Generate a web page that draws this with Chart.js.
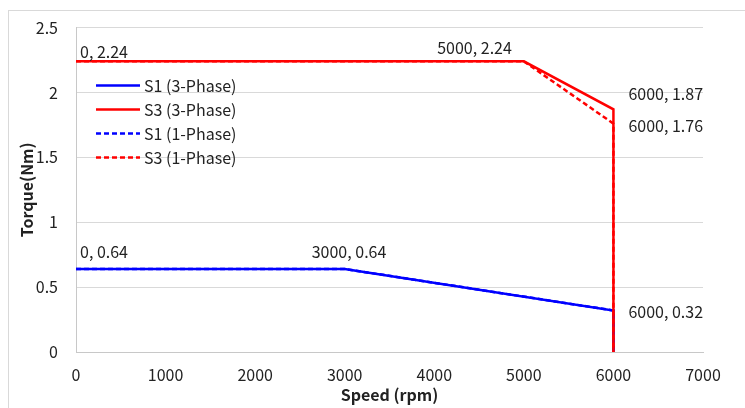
<!DOCTYPE html>
<html>
<head>
<meta charset="utf-8">
<script src="https://cdn.jsdelivr.net/npm/chart.js@4/dist/chart.umd.min.js"></script>
<style>
html,body{margin:0;padding:0;background:#fff;}
#wrap{position:relative;width:745px;height:408px;}
</style>
</head>
<body>
<div id="wrap"><canvas id="c" width="745" height="408"></canvas></div>
<script>
// ---- data ----
const seriesNames = ["S1 (3-Phase)", "S3 (3-Phase)", "S1 (1-Phase)", "S3 (1-Phase)"];
const s1ThreeSpeed = [0, 3000, 6000, 6000];
const s1ThreeTorque = [0.64, 0.64, 0.32, 0];
const s3ThreeSpeed = [0, 5000, 6000, 6000];
const s3ThreeTorque = [2.24, 2.24, 1.87, 0];
const s1OneSpeed = [0, 3000, 6000, 6000];
const s1OneTorque = [0.64, 0.64, 0.32, 0];
const s3OneSpeed = [0, 5000, 6000, 6000];
const s3OneTorque = [2.24, 2.24, 1.76, 0];
const xTicks = [0, 1000, 2000, 3000, 4000, 5000, 6000, 7000];
const yTicks = [0, 0.5, 1, 1.5, 2, 2.5];
const xTitle = "Speed (rpm)";
const yTitle = "Torque(Nm)";

// ---- styling ----
const FONT = "'Noto Sans CJK KR', 'Noto Sans', sans-serif";
const FS = 16;
const BLUE = "#0000ff";
const RED = "#ff0000";
const toPts = (xs, ys) => xs.map((x, i) => ({x: x, y: ys[i]}));

// which points get value labels (dataset index, point index) and placement style
const valueLabels = [
  {ds: 1, pt: 0, dx: 4, dy: -9, align: "left"},
  {ds: 1, pt: 1, dx: -12, dy: -13, align: "right"},
  {ds: 1, pt: 2, dx: 15, dy: -15, align: "left"},
  {ds: 3, pt: 2, dx: 15, dy: 2, align: "left"},
  {ds: 0, pt: 0, dx: 4, dy: -17, align: "left"},
  {ds: 0, pt: 1, dx: -33, dy: -17, align: "left"},
  {ds: 0, pt: 2, dx: 15, dy: 1, align: "left"}
];

const frame = {
  id: "frame",
  beforeDraw(chart) {
    const ctx = chart.ctx;
    ctx.save();
    ctx.fillStyle = "#fff";
    ctx.fillRect(0, 0, chart.width, chart.height);
    ctx.strokeStyle = "#d9d9d9";
    ctx.lineWidth = 1;
    ctx.strokeRect(8.5, 10.5, 800, 500);
    ctx.restore();
  }
};

const labelsAndLegend = {
  id: "labelsAndLegend",
  afterDatasetsDraw(chart) {
    const ctx = chart.ctx;
    const xs = chart.scales.x, ys = chart.scales.y;
    ctx.save();
    ctx.font = FS + "px " + FONT;
    ctx.fillStyle = "#222";
    ctx.textBaseline = "middle";
    valueLabels.forEach(l => {
      const p = chart.data.datasets[l.ds].data[l.pt];
      const px = xs.getPixelForValue(p.x), py = ys.getPixelForValue(p.y);
      ctx.textAlign = l.align;
      ctx.fillText(p.x + ", " + p.y, px + l.dx, py + l.dy);
    });
    // legend inside plot area
    const ca = chart.chartArea;
    const lx = ca.left + 20, ly = ca.top + 58, step = 24;
    chart.data.datasets.forEach((d, i) => {
      const y = ly + i * step;
      ctx.beginPath();
      ctx.setLineDash(d.borderDash || []);
      ctx.strokeStyle = d.borderColor;
      ctx.lineWidth = 2.5;
      ctx.moveTo(lx, y);
      ctx.lineTo(lx + 44, y);
      ctx.stroke();
      ctx.setLineDash([]);
      ctx.textAlign = "left";
      ctx.fillStyle = "#222";
      ctx.fillText(d.label, lx + 48, y);
    });
    ctx.restore();
  }
};

new Chart(document.getElementById("c"), {
  type: "scatter",
  data: {
    datasets: [
      {label: seriesNames[0], data: toPts(s1ThreeSpeed, s1ThreeTorque), borderColor: BLUE, backgroundColor: BLUE, order: 3},
      {label: seriesNames[1], data: toPts(s3ThreeSpeed, s3ThreeTorque), borderColor: RED, backgroundColor: RED, order: 1},
      {label: seriesNames[2], data: toPts(s1OneSpeed, s1OneTorque), borderColor: BLUE, backgroundColor: BLUE, borderDash: [5, 3], order: 2},
      {label: seriesNames[3], data: toPts(s3OneSpeed, s3OneTorque), borderColor: RED, backgroundColor: RED, borderDash: [5, 3], order: 0}
    ].map(d => Object.assign(d, {showLine: true, borderWidth: 2.5, pointRadius: 0, pointHoverRadius: 0, tension: 0, fill: false, clip: false}))
  },
  options: {
    responsive: false,
    animation: false,
    events: [],
    layout: {padding: {left: 0, top: 27, right: 42, bottom: 0}},
    plugins: {legend: {display: false}, tooltip: {enabled: false}},
    scales: {
      x: {
        type: "linear",
        min: xTicks[0], max: xTicks[xTicks.length - 1],
        afterBuildTicks: s => { s.ticks = xTicks.map(v => ({value: v})); },
        afterFit: s => { s.height = 56; },
        grid: {display: false, drawTicks: false},
        border: {display: true, color: "#c8c8c8", width: 1},
        ticks: {font: {family: FONT, size: FS}, color: "#222", padding: 13, maxRotation: 0, callback: v => String(v)},
        title: {display: true, text: xTitle, font: {family: FONT, size: FS, weight: "bold"}, color: "#222", padding: {top: 0, bottom: 3}}
      },
      y: {
        type: "linear",
        min: yTicks[0], max: yTicks[yTicks.length - 1],
        afterBuildTicks: s => { s.ticks = yTicks.map(v => ({value: v})); },
        afterFit: s => { s.width = 76; },
        grid: {color: "#d9d9d9", drawTicks: false, lineWidth: 1},
        border: {display: true, color: "#c8c8c8", width: 1},
        ticks: {font: {family: FONT, size: FS}, color: "#222", padding: 18, callback: v => String(v)},
        title: {display: true, text: yTitle, font: {family: FONT, size: FS, weight: "bold"}, color: "#222", padding: {top: 17, bottom: 0}}
      }
    }
  },
  plugins: [frame, labelsAndLegend]
});
</script>
</body>
</html>
